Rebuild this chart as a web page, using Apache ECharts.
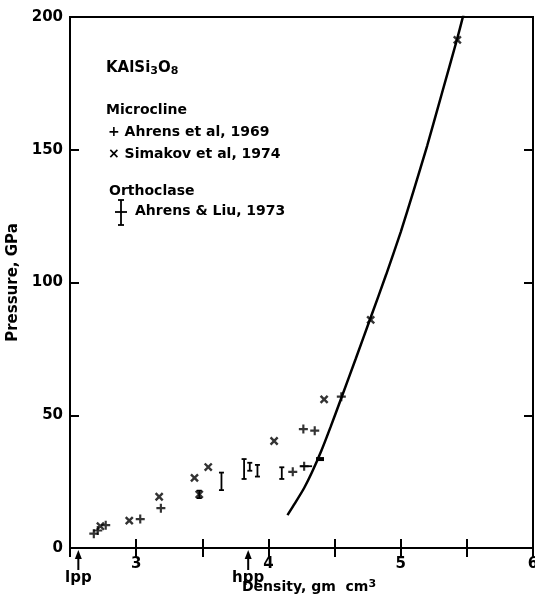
<!DOCTYPE html>
<html>
<head>
<meta charset="utf-8">
<script src="https://cdn.jsdelivr.net/npm/echarts@6/dist/echarts.min.js"></script>
<style>
html,body{margin:0;padding:0;background:#fff;overflow:hidden;}
#c{width:535px;height:600px;}
</style>
</head>
<body>
<div id="c"></div>
<script>
// ---- data (density g/cm3, pressure GPa) ----
const xTicks = [3, 4, 5, 6];
const yTicks = [0, 50, 100, 150, 200];
const hugoniotCurve = [[4.144,12.4],[4.20,16.8],[4.27,22.6],[4.33,28.6],[4.40,36.6],[4.47,45.6],[4.551,56.5],[4.66,71.3],[4.773,86.8],[4.89,103.0],[5.0,119.0],[5.1,135.0],[5.2,151.5],[5.31,171.0],[5.428,192.0],[5.48,202.0]];
const ahrens1969 = [[2.68,5.4],[2.71,6.6],[2.77,8.6],[3.031,10.9],[3.187,15.0],[4.184,28.7],[4.27,30.8],[4.264,44.8],[4.35,44.2],[4.551,57.0]];
const ahrens1969HBars = [[4.27,30.8,4.24,4.33]];
const ahrens1969Dash = [[4.39,33.5,4.36,4.42]];
const simakov1974 = [[2.73,8.2],[2.948,10.3],[3.174,19.3],[3.441,26.4],[3.477,20.2],[3.545,30.5],[4.043,40.3],[4.421,56.0],[4.773,85.9],[5.428,191.4]];
const ahrensLiu1973 = [[3.477,18.8,21.6],[3.645,21.8,28.4],[3.816,26.0,33.5],[3.859,29.1,32.1],[3.917,26.9,31.3],[4.101,26.0,30.4]];
const phaseMarks = [{label:'lpp', x:2.563},{label:'hpp', x:3.847}];

const FONT = 'DejaVu Sans';
const PLUS = 'path://M-1.2,-5H1.2V5H-1.2Z M-5,-1.2H5V1.2H-5Z';

const chart = echarts.init(document.getElementById('c'), null, {renderer:'canvas', width:535, height:600});

function vBar(params, api){
  const x = api.value(0), lo = api.value(1), hi = api.value(2);
  const a = api.coord([x, lo]), b = api.coord([x, hi]);
  const s = {stroke:'#000', lineWidth:1.8};
  return {type:'group', children:[
    {type:'line', shape:{x1:a[0],y1:a[1],x2:b[0],y2:b[1]}, style:s},
    {type:'line', shape:{x1:a[0]-2.5,y1:a[1],x2:a[0]+2.5,y2:a[1]}, style:s},
    {type:'line', shape:{x1:b[0]-2.5,y1:b[1],x2:b[0]+2.5,y2:b[1]}, style:s}
  ]};
}
function hBar(width){
  return function(params, api){
    const y = api.value(1), lo = api.value(2), hi = api.value(3);
    const a = api.coord([lo, y]), b = api.coord([hi, y]);
    return {type:'line', shape:{x1:a[0],y1:a[1],x2:b[0],y2:b[1]}, style:{stroke:'#000', lineWidth:width}};
  };
}

const axisCommon = {
  axisLine:{show:true, lineStyle:{color:'#000', width:2}},
  axisTick:{show:true, inside:true, length:9, lineStyle:{color:'#000', width:2}},
  splitLine:{show:false}
};

chart.setOption({
  animation:false,
  backgroundColor:'#fff',
  grid:{left:70, right:2, top:17, bottom:52, show:true, borderColor:'#000', borderWidth:2,
    outerBoundsMode:'none', containLabel:false},
  xAxis:[
    Object.assign({type:'value', min:2.5, max:6, interval:0.5, position:'bottom',
      axisLabel:{color:'#000', fontFamily:FONT, fontWeight:'bold', fontSize:15, margin:9,
        formatter:v => xTicks.includes(v) ? String(v) : ''}}, axisCommon),
    Object.assign({type:'value', min:2.5, max:6, interval:0.5, position:'top',
      axisLabel:{show:false}}, axisCommon)
  ],
  yAxis:[
    Object.assign({type:'value', min:0, max:200, interval:50, position:'left',
      name:'Pressure, GPa', nameLocation:'middle', nameGap:44,
      nameTextStyle:{color:'#000', fontFamily:FONT, fontWeight:'bold', fontSize:15},
      axisLabel:{color:'#000', fontFamily:FONT, fontWeight:'bold', fontSize:15, margin:7,
        formatter:v => yTicks.includes(v) ? String(v) : ''}}, axisCommon),
    Object.assign({type:'value', min:0, max:200, interval:50, position:'right',
      axisLabel:{show:false}}, axisCommon)
  ],
  series:[
    {type:'line', data:hugoniotCurve, smooth:0.2, showSymbol:false, clip:true,
      lineStyle:{color:'#000', width:2.5}},
    {type:'scatter', data:ahrens1969, symbol:PLUS, symbolSize:9, itemStyle:{color:'#000'}},
    {type:'scatter', data:simakov1974, symbol:PLUS, symbolSize:10, symbolRotate:45, itemStyle:{color:'#000'}},
    {type:'custom', data:ahrensLiu1973, renderItem:vBar},
    {type:'custom', data:ahrens1969HBars, renderItem:hBar(1.8)},
    {type:'custom', data:ahrens1969Dash, renderItem:hBar(4)}
  ]
});

const txt = {fill:'#000', fontFamily:FONT, fontWeight:'bold', fontSize:14};
const graphics = [
  {type:'text', left:106, top:61, style:Object.assign({}, txt, {
    text:'KAlSi{s|3}O{s|8}', fontSize:15,
    rich:{s:{fontFamily:FONT, fontWeight:'bold', fontSize:11, verticalAlign:'bottom', padding:[6,0,0,0]}}})},
  {type:'text', left:106, top:103, style:Object.assign({}, txt, {text:'Microcline'})},
  {type:'text', left:108, top:125, style:Object.assign({}, txt, {text:'+ Ahrens et al, 1969'})},
  {type:'text', left:108, top:147, style:Object.assign({}, txt, {text:'× Simakov et al, 1974'})},
  {type:'text', left:109, top:184, style:Object.assign({}, txt, {text:'Orthoclase'})},
  {type:'text', left:135, top:204, style:Object.assign({}, txt, {text:'Ahrens & Liu, 1973'})},
  {type:'line', shape:{x1:121,y1:200,x2:121,y2:225}, style:{stroke:'#000', lineWidth:1.8}},
  {type:'line', shape:{x1:118,y1:200,x2:124,y2:200}, style:{stroke:'#000', lineWidth:1.8}},
  {type:'line', shape:{x1:118,y1:225,x2:124,y2:225}, style:{stroke:'#000', lineWidth:1.8}},
  {type:'line', shape:{x1:115,y1:212,x2:127,y2:212}, style:{stroke:'#000', lineWidth:1.8}},
  {type:'text', left:242, top:579, style:Object.assign({}, txt, {
    text:'Density, gm  cm{s|3}',
    rich:{s:{fontFamily:FONT, fontWeight:'bold', fontSize:11, verticalAlign:'top', padding:[0,0,6,0]}}})}
];
const yAxisPx = chart.convertToPixel({yAxisIndex:0}, 0);
phaseMarks.forEach(m => {
  const px = chart.convertToPixel({xAxisIndex:0}, m.x);
  graphics.push({type:'line', shape:{x1:px,y1:yAxisPx+8,x2:px,y2:yAxisPx+22}, style:{stroke:'#000', lineWidth:2}});
  graphics.push({type:'polygon', shape:{points:[[px,yAxisPx+2],[px-3.5,yAxisPx+11],[px+3.5,yAxisPx+11]]}, style:{fill:'#000'}});
  graphics.push({type:'text', x:px, y:yAxisPx+30, style:Object.assign({}, txt, {text:m.label, align:'center', verticalAlign:'middle', fontSize:15})});
});
chart.setOption({graphic:graphics});
</script>
</body>
</html>
